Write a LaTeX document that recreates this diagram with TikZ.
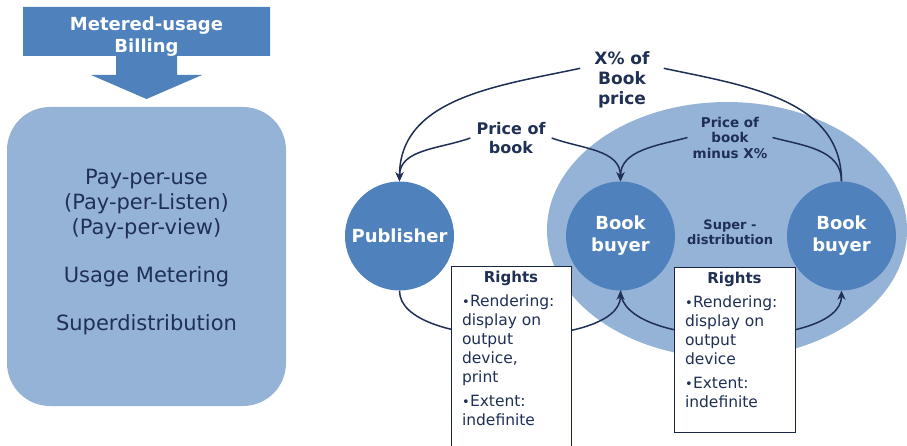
\documentclass[tikz,border=0pt]{standalone}
\usepackage{fontspec}
\setmainfont{DejaVu Sans}
\usetikzlibrary{shapes.geometric,arrows.meta,positioning}
\definecolor{midblue}{RGB}{79,129,189}
\definecolor{lightblue}{RGB}{149,179,215}
\definecolor{navytext}{RGB}{31,48,84}

\newcommand{\rightsitem}[1]{\par\vspace{5pt}\noindent\hangindent=8pt\hangafter=1%
  \makebox[8pt][l]{\raisebox{0.5pt}{\fontsize{13}{13}\selectfont\textbullet}}#1\par}

\tikzset{
  party/.style={circle, fill=midblue, minimum size=109pt, inner sep=0pt,
    text=white, align=center, font=\fontsize{18}{22}\selectfont\bfseries},
  flowlabel/.style={text=navytext, align=center, inner xsep=5pt},
  flow/.style={draw=navytext, line width=1.5pt},
  rightsbox/.style={draw=navytext!80!black, line width=0.8pt, fill=white,
    inner xsep=11pt, inner ysep=5pt, anchor=north, text=navytext},
  >={Stealth[length=9pt,width=8pt]}
}

\begin{document}
\begin{tikzpicture}[x=1pt,y=1pt]
    \useasboundingbox (0,0) rectangle (907,445);

    % Billing callout
    \fill[midblue] (23,438) -- (270,438) -- (270,389) -- (177,389) -- (177,370)
        -- (202,370) -- (146.5,346) -- (91,370) -- (116,370) -- (116,389)
        -- (23,389) -- cycle;
    \node[text=white, align=center, font=\fontsize{18}{22}\selectfont\bfseries]
        (billing) at (146.5,408) {Metered-usage\\Billing};

    % Usage box
    \node[rounded corners=43pt, fill=lightblue, minimum width=279pt,
        minimum height=299pt] (usage) at (146.5,188.5) {};
    \node[text=navytext, align=center, font=\fontsize{21}{25}\selectfont]
        (usagetext) at ([yshift=4.5pt]usage.center)
        {Pay-per-use\\(Pay-per-Listen)\\(Pay-per-view)\\[23pt]Usage Metering\\[23pt]Superdistribution};

    % Superdistribution zone
    \node[ellipse, fill=lightblue, minimum width=360pt, minimum height=256pt,
        inner sep=0pt] (zone) at (727,215) {};
    \node[flowlabel, font=\fontsize{13}{15}\selectfont\bfseries] (superd)
        at (730,212.5) {Super -\\distribution};

    % Parties
    \node[party] (pub) at (399.5,209) {Publisher};
    \node[party] (buyerA) at (620.5,209) {Book\\buyer};
    \node[party] (buyerB) at (841.5,209) {Book\\buyer};

    % Payment labels
    \node[flowlabel, inner xsep=14pt, font=\fontsize{17}{20}\selectfont\bfseries]
        (share) at (622,365.5) {X\% of\\Book\\price};
    \node[flowlabel, inner xsep=6pt, font=\fontsize{16}{18.5}\selectfont\bfseries]
        (price) at (511,307) {Price of\\book};
    \node[flowlabel, font=\fontsize{13.5}{15.5}\selectfont\bfseries]
        (pricex) at (730,307.5) {Price of\\book\\minus X\%};

    % Payment flows
    \draw[flow] (buyerB.north) to[out=90,in=-12] (share.15);
    \draw[flow,->] (share.165) to[out=192,in=90] (pub.north);
    \draw[flow,->] (price.west) to[out=200,in=90] (pub.north);
    \draw[flow,->] (price.east) to[out=-20,in=90] (buyerA.north);
    \draw[flow,->] (pricex.west) to[out=195,in=90] (buyerA.north);
    \draw[flow] (pricex.east) to[out=-15,in=90] (buyerB.north);

    % Content flows
    \draw[flow,->] (pub.south) to[out=-90,in=-90,looseness=0.69] (buyerA.south);
    \draw[flow,->] (buyerA.south) to[out=-90,in=-90,looseness=0.69] (buyerB.south);

    % Rights
    \node[rightsbox] (rightsA) at (511,179) {\parbox[c][180pt][t]{98pt}{%
        \centering\fontsize{15}{19}\selectfont\bfseries Rights\par
        \raggedright\mdseries\fontsize{15.5}{19}\selectfont
        \rightsitem{Rendering:\\display on\\output\\device,\\print}
        \rightsitem{Extent:\\indefinite}}};
    \node[rightsbox] (rightsB) at (734.5,178) {\parbox[c][155pt][t]{99pt}{%
        \centering\fontsize{15}{19}\selectfont\bfseries Rights\par
        \raggedright\mdseries\fontsize{15.5}{19}\selectfont
        \rightsitem{Rendering:\\display on\\output\\device}
        \rightsitem{Extent:\\indefinite}}};
\end{tikzpicture}
\end{document}
